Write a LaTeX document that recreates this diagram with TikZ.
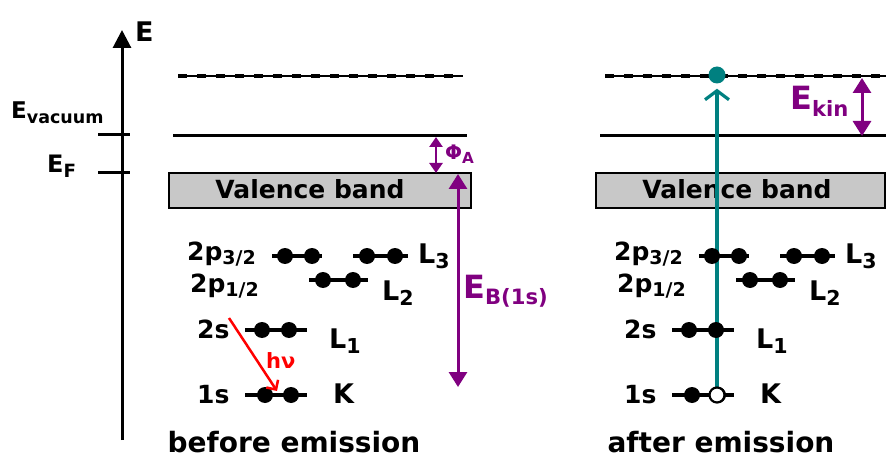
\documentclass[tikz,border=0pt]{standalone}
\usepackage{fontspec}
\setmainfont{DejaVu Sans}
\usetikzlibrary{arrows.meta}

\definecolor{xpurple}{RGB}{128,0,128}
\definecolor{xteal}{RGB}{0,128,128}
\definecolor{bandgray}{RGB}{200,200,200}
\newcommand{\lowtxt}[2][.76]{\raisebox{-.35ex}{\scalebox{#1}{#2}}}

\tikzset{
  every node/.style={inner sep=0pt},
  txt/.style={font=\fontsize{#1}{#1}\selectfont\bfseries},
  level/.style={line width=3.8pt},
  tick/.style={line width=3pt},
  elec/.style={circle, fill=black, minimum size=16pt, inner sep=0pt},
  hole/.style={circle, draw=black, fill=white, line width=2.2pt, minimum size=15pt, inner sep=0pt},
  photoel/.style={circle, fill=xteal, minimum size=17pt, inner sep=0pt},
  band/.style={draw=black, fill=bandgray, line width=1.2pt},
  vacthin/.style={line width=1.5pt},
  vacdash/.style={line width=3.5pt, dash pattern=on 9pt off 10pt},
  gap/.style={xpurple, line width=3pt, {Triangle[length=15pt,width=18pt]}-{Triangle[length=15pt,width=18pt]}},
}

\begin{document}
\begin{tikzpicture}[x=1pt,y=-1pt]
\clip (0,0) rectangle (886,457);

% energy axis
\coordinate (axbot) at (122,440);
\coordinate (axtop) at (122,30);
\draw[line width=3pt,-{Triangle[length=18pt,width=18pt]}] (axbot) -- (axtop);
\node[txt=27, anchor=base west] (Elab) at (135,42) {E};
\draw[tick] (98,135) -- (130,135);
\draw[tick] (98,173) -- (130,173);
\node[txt=23, anchor=base west] (Evac) at (11,119) {E\lowtxt{vacuum}};
\node[txt=24, anchor=base west] (EF) at (47,173) {E\lowtxt{F}};

% vacuum level, Fermi level and valence band, both panels
\foreach \p/\dx/\xe/\ttl in {a/0/471/before emission, b/427/458/after emission}{
  \begin{scope}[xshift=\dx pt]
    \draw[vacthin] (178,76) -- (463,76);
    \draw[vacdash] (178,76) -- (463,76);
    \draw[tick] (173,136) -- (467,136);
    \draw[band] (169,173) rectangle (\xe,208);
    \node[txt=25, anchor=base] (vb\p) at (310,199) {Valence band};
    \node[txt=28, anchor=base] (ttl\p) at (294,452) {\ttl};
  \end{scope}
}

% emitted photoelectron
\coordinate (kstart) at (717,395);
\node[photoel] (pe) at (717,75) {};
\draw[xteal, line width=3.2pt, -{Straight Barb[length=9pt,width=24pt,line width=3.2pt]}, shorten >=5pt] (kstart) -- (pe);

% core levels, both panels
\foreach \p/\dx in {a/0, b/427}{
  \begin{scope}[xshift=\dx pt]
    \draw[level] (272,256) -- (322,256);
    \draw[level] (353,256) -- (408,256);
    \draw[level] (309,280) -- (368,280);
    \draw[level] (245,330) -- (307,330);
    \draw[level] (245,395) -- (307,395);
    \foreach \x in {285,312,367,395}
      \node[elec] (p3\p\x) at (\x,256) {};
    \foreach \x in {323,353}
      \node[elec] (p1\p\x) at (\x,280) {};
    \foreach \x in {262,289}
      \node[elec] (s2\p\x) at (\x,330) {};
    \foreach \x in {265,291}
      \node[elec] (s1\p\x) at (\x,395) {};
    \node[txt=25, anchor=base west] (p32\p) at (187,260) {2p\lowtxt{3/2}};
    \node[txt=25, anchor=base west] (p12\p) at (190,292) {2p\lowtxt{1/2}};
    \node[txt=25, anchor=base west] (s2\p) at (197,338) {2s};
    \node[txt=25, anchor=base west] (s1\p) at (197,403) {1s};
    \node[txt=27, anchor=base west] (L3\p) at (418,263) {L\lowtxt{3}};
    \node[txt=27, anchor=base west] (L2\p) at (382,300) {L\lowtxt{2}};
    \node[txt=27, anchor=base west] (L1\p) at (329,348) {L\lowtxt{1}};
    \node[txt=27, anchor=base west] (K\p) at (333,403) {K};
  \end{scope}
}
\node[hole] (kh) at (kstart) {};

% incoming photon
\coordinate (hvstart) at (229,318);
\coordinate (hvend) at (277,391);
\draw[red, line width=2.5pt, -{Straight Barb[length=7pt,width=14pt,line width=2.5pt]}] (hvstart) -- (hvend);
\node[txt=21, text=red, anchor=base west] (hv) at (266,368) {hν};

% work function and binding energy
\coordinate (phitop) at (436,137);
\coordinate (phibot) at (436,173);
\draw[xpurple, line width=2.5pt, {Triangle[length=10pt,width=13pt]}-{Triangle[length=10pt,width=13pt]}] (phitop) -- (phibot);
\node[txt=20, text=xpurple, anchor=base west] (phi) at (445,160) {Φ\lowtxt{A}};
\coordinate (ebtop) at (458,174);
\coordinate (ebbot) at (458,387);
\draw[gap] (ebtop) -- (ebbot);
\node[txt=32, text=xpurple, anchor=base west] (EB) at (463,298) {E\lowtxt[.66]{B(1s)}};

% kinetic energy
\coordinate (kintop) at (862,78);
\coordinate (kinbot) at (862,136);
\draw[gap] (kintop) -- (kinbot);
\node[txt=32, text=xpurple, anchor=base west] (Ekin) at (790,110) {E\lowtxt[.66]{kin}};
\end{tikzpicture}
\end{document}
